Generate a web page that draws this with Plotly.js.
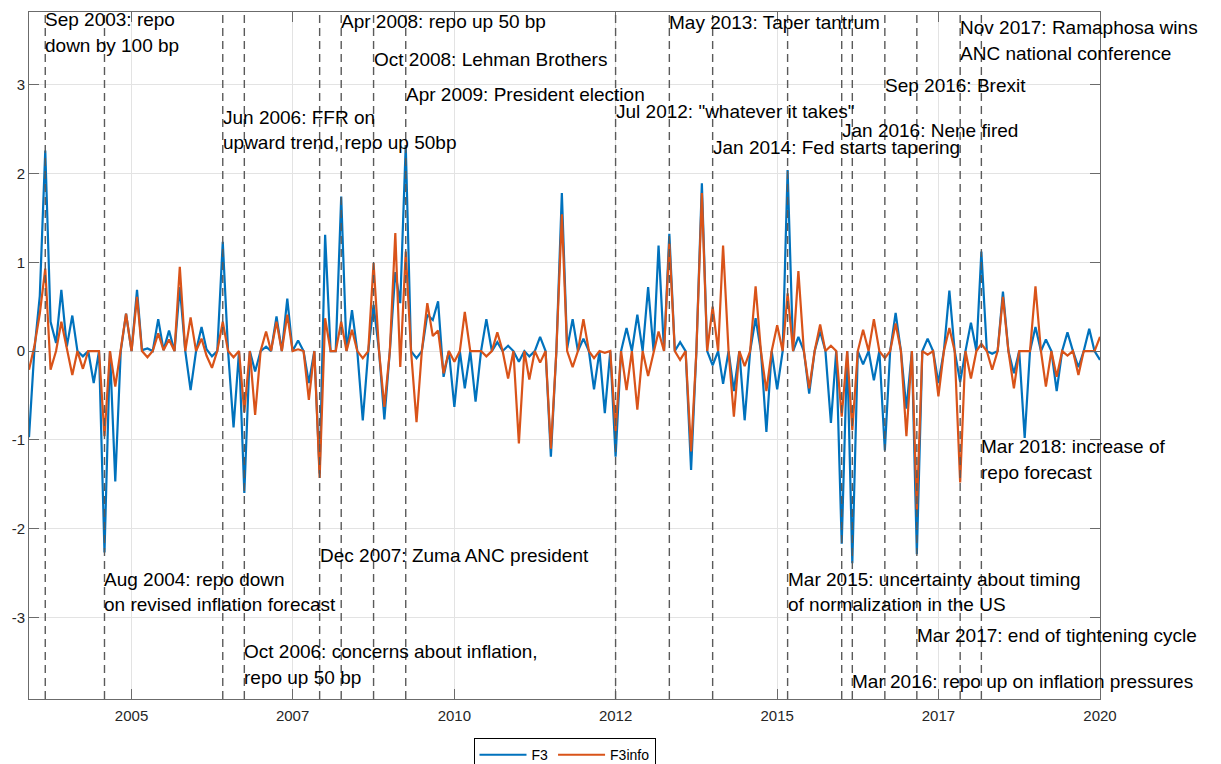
<!DOCTYPE html>
<html>
<head>
<meta charset="utf-8">
<script src="https://cdn.plot.ly/plotly-3.0.1.min.js"></script>
<style>
  html, body { margin: 0; padding: 0; background: #ffffff; }
  #chart { width: 1221px; height: 764px; }
</style>
</head>
<body>
<div id="chart"></div>
<script>
// Monthly observations, first one in June 2003
const firstYear = 2003;
const firstMonth = 6;

const f3 = [
  -0.97, 0.00, 0.62, 2.26, 0.33, 0.09, 0.69, 0.05, 0.40, 0.00,
  -0.06, 0.00, -0.36, 0.00, -2.27, 0.00, -1.47, 0.00, 0.42, 0.00,
  0.69, 0.01, 0.03, 0.00, 0.36, 0.01, 0.23, 0.00, 0.72, 0.00,
  -0.44, 0.00, 0.27, 0.02, -0.06, 0.00, 1.23, 0.00, -0.86, 0.00,
  -1.60, 0.00, -0.23, 0.00, 0.05, 0.00, 0.39, 0.00, 0.59, 0.00,
  0.12, 0.00, -0.36, 0.00, -1.38, 1.31, 0.00, 0.00, 1.74, 0.00,
  0.46, 0.00, -0.78, 0.00, 0.52, 0.00, -0.77, 0.00, 0.89, 0.54,
  2.32, 0.00, -0.08, 0.00, 0.41, 0.35, 0.56, -0.29, 0.00, -0.63,
  0.00, -0.42, 0.00, -0.57, 0.00, 0.36, 0.00, 0.10, 0.00, 0.06,
  0.00, -0.12, 0.00, -0.06, 0.00, 0.16, 0.00, -1.19, 0.00, 1.78,
  0.03, 0.36, 0.00, 0.14, 0.00, -0.43, 0.00, -0.70, 0.00, -1.19,
  0.00, 0.26, 0.00, 0.41, 0.00, 0.72, 0.00, 1.19, 0.00, 1.32,
  0.00, 0.10, 0.00, -1.34, 0.00, 1.89, 0.00, -0.16, 0.00, -0.37,
  0.00, -0.45, 0.00, -0.78, 0.00, 0.37, 0.00, -0.91, 0.00, -0.43,
  0.00, 2.04, 0.00, 0.16, 0.00, -0.48, 0.00, 0.22, 0.00, -0.81,
  0.00, -2.17, 0.00, -2.39, 0.00, -0.15, 0.00, -0.33, 0.00, -1.12,
  0.00, 0.43, 0.00, -0.65, 0.00, -2.29, 0.00, 0.14, 0.00, -0.36,
  0.00, 0.68, 0.00, -0.35, 0.00, 0.32, 0.00, 1.12, 0.00, -0.03,
  0.00, 0.67, 0.00, -0.25, 0.00, -0.98, 0.00, 0.27, 0.00, 0.13,
  0.00, -0.45, 0.00, 0.21, 0.00, -0.18, 0.00, 0.25, 0.00, -0.10
];

const f3info = [
  -0.21, 0.05, 0.42, 0.93, -0.21, 0.00, 0.33, 0.01, -0.27, 0.00,
  -0.20, 0.00, 0.00, 0.00, -0.96, 0.00, -0.40, 0.00, 0.42, 0.00,
  0.61, 0.00, -0.07, 0.00, 0.20, 0.01, 0.13, 0.00, 0.95, 0.00,
  0.38, 0.00, 0.14, -0.05, -0.19, 0.00, 0.33, 0.00, -0.07, 0.00,
  -0.69, 0.00, -0.72, 0.00, 0.22, 0.00, 0.33, 0.00, 0.41, 0.00,
  0.02, 0.00, -0.55, 0.00, -1.43, 0.37, 0.00, 0.00, 0.33, 0.00,
  0.24, 0.00, -0.08, 0.00, 0.99, 0.00, -0.63, 0.00, 1.33, -0.18,
  1.12, 0.00, -0.80, 0.00, 0.54, 0.17, 0.23, -0.25, 0.00, -0.12,
  0.00, 0.44, 0.00, 0.00, 0.00, -0.06, 0.00, 0.21, 0.00, -0.31,
  0.00, -1.04, 0.00, -0.32, 0.00, -0.13, 0.00, -1.10, 0.00, 1.54,
  0.00, -0.18, 0.00, 0.36, 0.00, -0.08, 0.00, -0.02, 0.00, -0.90,
  0.00, -0.44, 0.00, -0.66, 0.00, -0.28, 0.00, 0.22, 0.00, 1.21,
  0.00, -0.10, 0.00, -1.13, 0.00, 1.78, 0.00, 0.50, 0.00, 1.19,
  0.00, -0.74, 0.00, -0.17, 0.00, 0.73, 0.00, -0.45, 0.00, 0.29,
  0.00, 0.65, 0.00, 0.90, 0.00, -0.42, 0.00, 0.30, 0.00, 0.06,
  0.00, -0.74, 0.00, -0.89, 0.00, 0.24, 0.00, 0.36, 0.00, -0.08,
  0.00, 0.31, 0.00, -0.96, 0.00, -1.79, 0.00, -0.04, 0.00, -0.51,
  0.00, 0.26, 0.00, -1.48, 0.00, -0.31, 0.00, 0.08, 0.00, -0.21,
  0.00, 0.61, 0.00, -0.42, 0.00, 0.00, 0.00, 0.73, 0.00, -0.40,
  0.00, -0.29, 0.00, -0.05, 0.00, -0.27, 0.00, 0.00, 0.00, 0.16
];

// Axis ticks: every 30th month, labelled with its year
const tickDates = ['2005-01-01', '2007-07-01', '2010-01-01', '2012-07-01', '2015-01-01', '2017-07-01', '2020-01-01'];
const tickLabels = ['2005', '2007', '2010', '2012', '2015', '2017', '2020'];

// Policy and market events
const eventDates = [
  '2003-09-01', '2004-08-01', '2006-06-01', '2006-10-01', '2007-12-01', '2008-04-01',
  '2008-10-01', '2009-04-01', '2012-07-01', '2013-05-01', '2014-01-01', '2015-03-01',
  '2016-01-01', '2016-03-01', '2016-09-01', '2017-03-01', '2017-11-01', '2018-03-01'
];
const eventTexts = [
  ['Sep 2003: repo', 'down by 100 bp'],
  ['Aug 2004: repo down', 'on revised inflation forecast'],
  ['Jun 2006: FFR on', 'upward trend, repo up 50bp'],
  ['Oct 2006: concerns about inflation,', 'repo up 50 bp'],
  ['Dec 2007: Zuma ANC president'],
  ['Apr 2008: repo up 50 bp'],
  ['Oct 2008: Lehman Brothers'],
  ['Apr 2009: President election'],
  ['Jul 2012: "whatever it takes"'],
  ['May 2013: Taper tantrum'],
  ['Jan 2014: Fed starts tapering'],
  ['Mar 2015: uncertainty about timing', 'of normalization in the US'],
  ['Jan 2016: Nene fired'],
  ['Mar 2016: repo up on inflation pressures'],
  ['Sep 2016: Brexit'],
  ['Mar 2017: end of tightening cycle'],
  ['Nov 2017: Ramaphosa wins', 'ANC national conference'],
  ['Mar 2018: increase of', 'repo forecast']
];

// Vertical placement of each note (first line, in y units); lines are stacked below it
const noteTop = [3.73, -2.57, 2.63, -3.39, -2.30, 3.71, 3.28, 2.89, 2.70, 3.70,
                 2.29, -2.57, 2.49, -3.72, 2.99, -3.21, 3.64, -1.08];
const noteLineStep = 0.283;

function monthDate(k) {
  const total = (firstYear * 12 + (firstMonth - 1)) + k;
  const y = Math.floor(total / 12);
  const m = total % 12 + 1;
  return y + '-' + String(m).padStart(2, '0') + '-01';
}
const dates = f3.map((_, k) => monthDate(k));

const traces = [
  { x: dates, y: f3, type: 'scatter', mode: 'lines', name: 'F3',
    line: { color: '#0072BD', width: 2.2 } },
  { x: dates, y: f3info, type: 'scatter', mode: 'lines', name: 'F3info',
    line: { color: '#D95319', width: 2.2 } }
];

const shapes = eventDates.map(d => ({
  type: 'line', xref: 'x', yref: 'paper', x0: d, x1: d, y0: 0, y1: 1,
  line: { color: '#5a5a5a', width: 1.4, dash: '8px,5px' }, layer: 'above'
}));

const annotations = [];
eventTexts.forEach((lines, k) => {
  lines.forEach((txt, j) => {
    annotations.push({
      xref: 'x', yref: 'y', x: eventDates[k], y: noteTop[k] - j * noteLineStep,
      text: txt, showarrow: false, xanchor: 'left', yanchor: 'middle',
      xshift: -2, font: { family: 'Liberation Sans, Arial, sans-serif', size: 19, color: '#000000' }
    });
  });
});

const axisCommon = {
  showline: true, linecolor: '#6b6b6b', linewidth: 1, mirror: 'ticks',
  ticks: 'inside', ticklen: 10, tickcolor: '#6b6b6b', tickwidth: 1,
  showgrid: true, gridcolor: '#e3e3e3', gridwidth: 1, zeroline: false,
  tickfont: { family: 'Liberation Sans, Arial, sans-serif', size: 15, color: '#262626' }
};

const layout = {
  width: 1221, height: 764,
  margin: { l: 29, r: 121, t: 12, b: 65, autoexpand: false },
  paper_bgcolor: '#ffffff', plot_bgcolor: '#ffffff',
  showlegend: true,
  legend: {
    orientation: 'h', x: 0.5, xanchor: 'center', y: -0.057, yanchor: 'top',
    bordercolor: '#000000', borderwidth: 1, bgcolor: '#ffffff', itemwidth: 47,
    font: { family: 'Liberation Sans, Arial, sans-serif', size: 14, color: '#000000' }
  },
  xaxis: Object.assign({}, axisCommon, {
    type: 'date', range: ['2003-06-01', '2020-01-01'],
    tickmode: 'array', tickvals: tickDates, ticktext: tickLabels,
    ticklabelstandoff: 3
  }),
  yaxis: Object.assign({}, axisCommon, {
    range: [-3.92, 3.82], tickmode: 'array',
    tickvals: [-3, -2, -1, 0, 1, 2, 3], ticktext: ['-3', '-2', '-1', '0', '1', '2', '3']
  }),
  shapes: shapes,
  annotations: annotations
};

Plotly.newPlot('chart', traces, layout, { displayModeBar: false, staticPlot: true });
</script>
</body>
</html>
